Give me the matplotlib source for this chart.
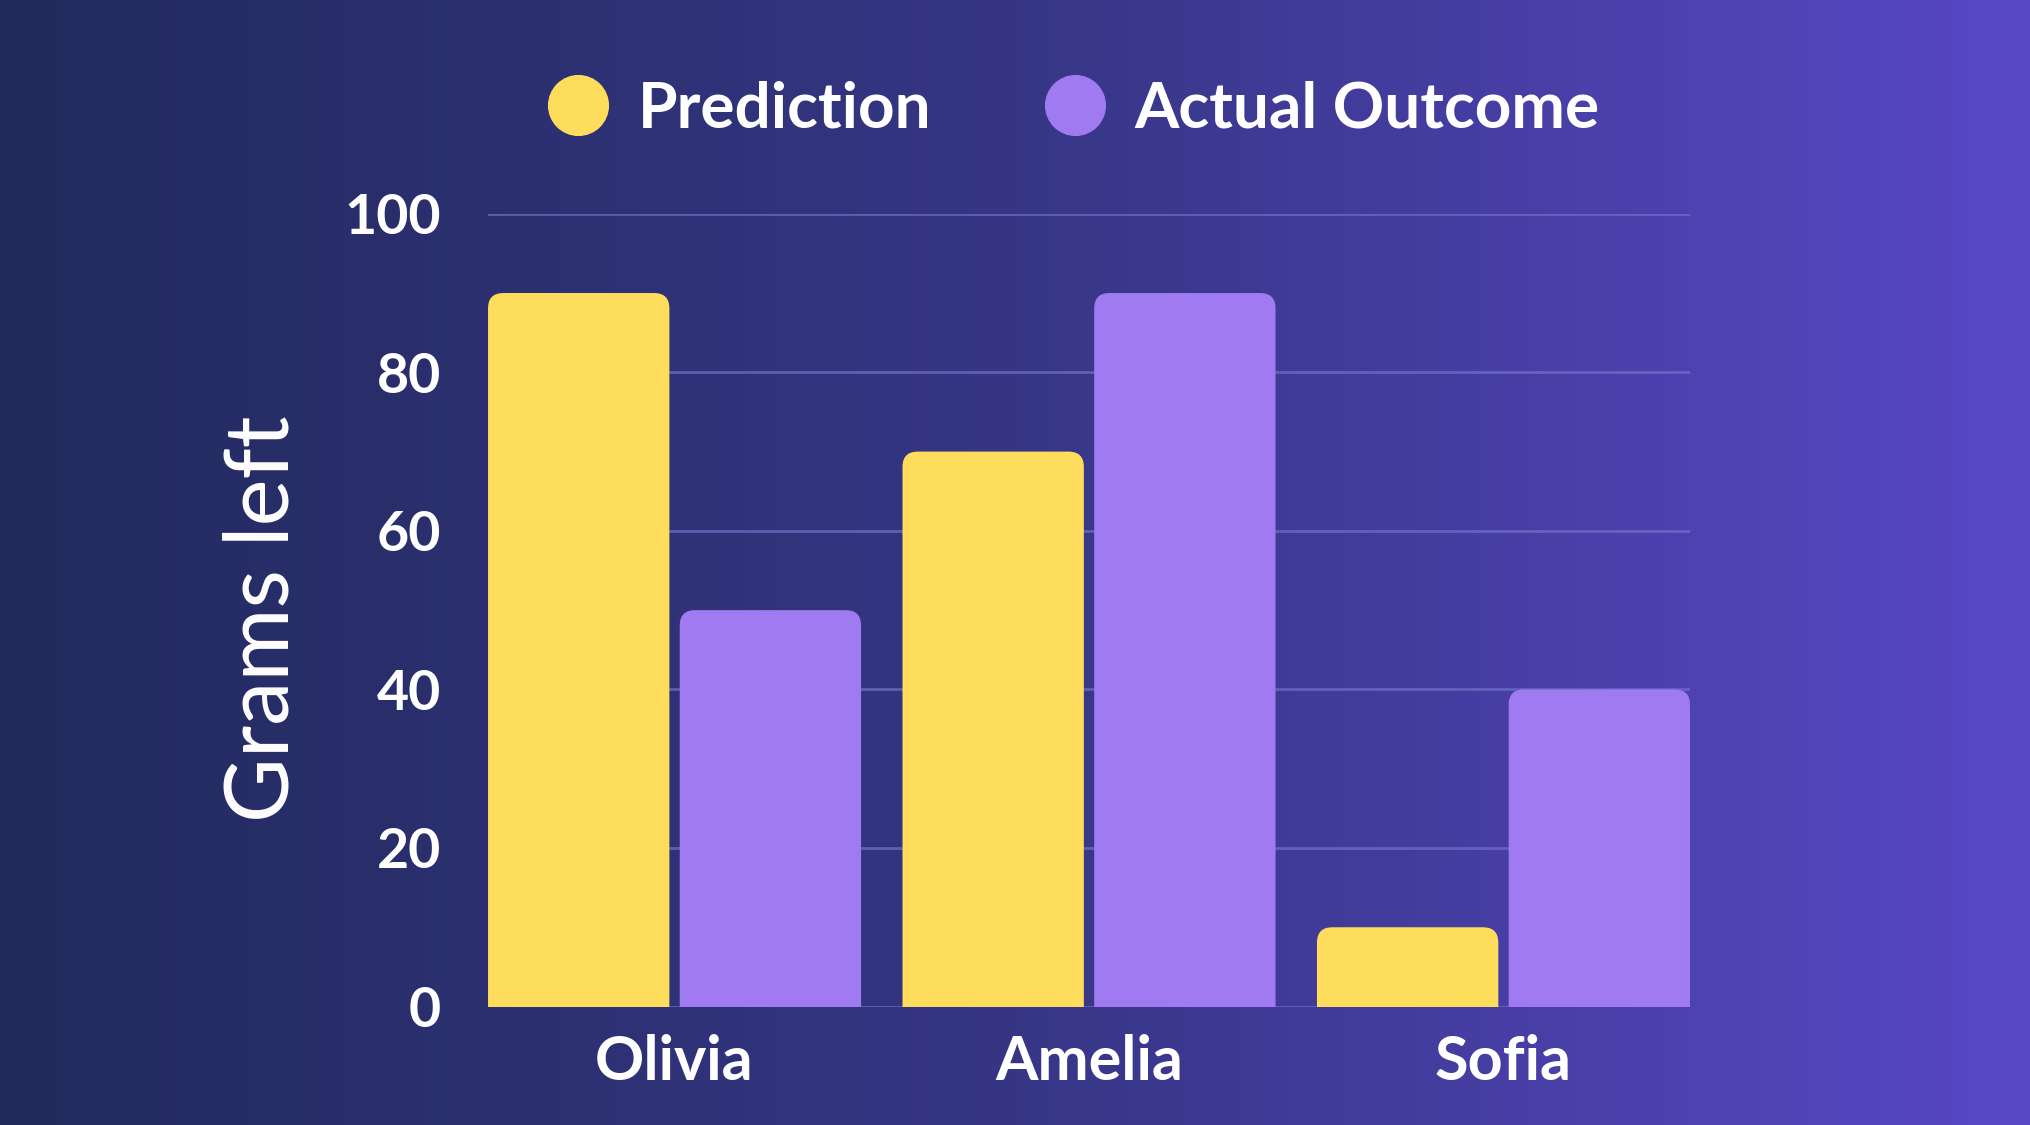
import matplotlib.pyplot as plt
import numpy as np
from matplotlib.colors import LinearSegmentedColormap
from matplotlib.lines import Line2D
from matplotlib.patches import FancyBboxPatch

names = ['Olivia', 'Amelia', 'Sofia']
prediction = [90, 70, 10]
actual = [50, 90, 40]
yticks = [0, 20, 40, 60, 80, 100]

YELLOW = '#ffdd5c'
PURPLE = '#a07af0'
FONT = 'Lato'

fig = plt.figure(figsize=(20.31, 11.25), dpi=100)

# background gradient
bg = fig.add_axes([0, 0, 1, 1], zorder=-10)
cmap = LinearSegmentedColormap.from_list('bg', ['#222a5c', '#363685', '#5848c6'])
bg.imshow(np.linspace(0, 1, 256)[None, :], cmap=cmap, aspect='auto', extent=[0, 1, 0, 1])
bg.axis('off')

ax = fig.add_axes([0.2403, 0.1053, 0.5918, 0.7047])
ax.patch.set_alpha(0)

x = np.arange(len(names))
w = 0.4375
off = 0.23125


def rounded_bars(xs, vals, color):
    # plain bars give the geometry, rounded patches (clipped at 0) replace them
    bars = ax.bar(xs, vals, w, color=color, zorder=3)
    for b in bars:
        b.set_visible(False)
        ax.add_patch(FancyBboxPatch((b.get_x(), -5), b.get_width(), b.get_height() + 5,
                                    boxstyle='round,pad=0,rounding_size=0.037',
                                    mutation_aspect=52, fc=color, ec='none', zorder=3))


rounded_bars(x - off, prediction, YELLOW)
rounded_bars(x + off, actual, PURPLE)

ax.set_xlim(-0.45, 2.45)
ax.set_ylim(0, 100)
ax.set_yticks(yticks)
ax.set_xticks(x)
ax.set_xticklabels(names)
ax.grid(axis='y', color='#7470c8', alpha=0.7, linewidth=2, zorder=1)
for s in ax.spines.values():
    s.set_visible(False)
ax.tick_params(axis='y', length=0, pad=34, labelsize=40, labelcolor='white')
ax.tick_params(axis='x', length=0, pad=20, labelsize=44, labelcolor='white')
for lab in ax.get_xticklabels() + ax.get_yticklabels():
    lab.set_fontfamily(FONT)
    lab.set_fontweight('bold')

fig.text(0.1295, 0.4498, 'Grams left', rotation=90, ha='center', va='center',
         color='white', fontsize=64, family=FONT)

handles = [Line2D([], [], ls='none', marker='o', ms=43, color=YELLOW),
           Line2D([], [], ls='none', marker='o', ms=43, color=PURPLE)]
leg = fig.legend(handles, ['Prediction', 'Actual Outcome'], ncol=2, frameon=False,
                 loc='center', bbox_to_anchor=(0.5283, 0.903), handlelength=1,
                 handletextpad=0.44, columnspacing=1.74,
                 prop={'family': FONT, 'weight': 'bold', 'size': 46})
for t in leg.get_texts():
    t.set_color('white')

fig.savefig('out.png', dpi=100)
